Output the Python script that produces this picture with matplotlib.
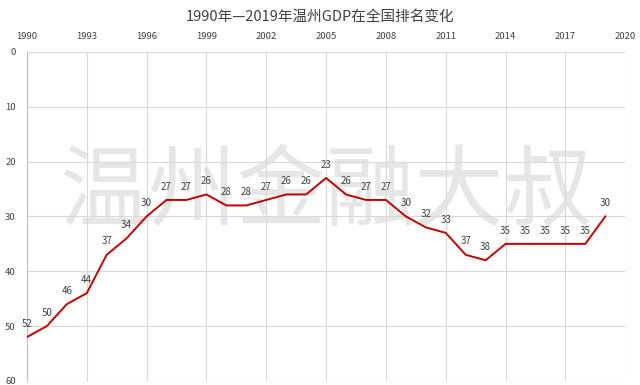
import matplotlib
matplotlib.use("Agg")
import matplotlib.pyplot as plt

plt.rcParams['font.family'] = ['Noto Sans CJK SC', 'DejaVu Sans']

years = list(range(1990, 2020))
ranks = [52, 50, 46, 44, 37, 34, 30, 27, 27, 26, 28, 28, 27, 26, 26,
         23, 26, 27, 27, 30, 32, 33, 37, 38, 35, 35, 35, 35, 35, 30]
xticks = list(range(1990, 2021, 3))
yticks = [0, 10, 20, 30, 40, 50, 60]
title = "1990年—2019年温州GDP在全国排名变化"
watermark = "温州金融大叔"

fig = plt.figure(figsize=(6.4, 3.85), dpi=100)
ax = fig.add_axes([0.042, 0.0104, 0.935, 0.855])

ax.plot(years, ranks, color='#c00000', lw=1.4, zorder=3)
for x, y in zip(years, ranks):
    ax.annotate(str(y), (x, y), xytext=(0, 6), textcoords='offset points',
                ha='center', va='bottom', fontsize=7, color='#404040', zorder=4)

ax.set_xlim(1990, 2020)
ax.set_ylim(60, 0)
ax.set_xticks(xticks)
ax.set_yticks(yticks)
ax.xaxis.tick_top()
ax.tick_params(axis='both', length=0, labelsize=6.8, labelcolor='#404040')
ax.tick_params(axis='x', pad=8)
ax.tick_params(axis='y', pad=8)
ax.grid(True, color='#d9d9d9', lw=0.8)
for s in ['top', 'right', 'bottom']:
    ax.spines[s].set_visible(False)
ax.spines['left'].set_color('#bfbfbf')

ax.text(0.5, 0.57, watermark, transform=ax.transAxes, ha='center', va='center',
        fontsize=64, color='#e6e6e6', zorder=1)

fig.text(0.5, 0.955, title, ha='center', va='center', fontsize=10.5, color='#404040')

fig.savefig('out.png', dpi=100)
